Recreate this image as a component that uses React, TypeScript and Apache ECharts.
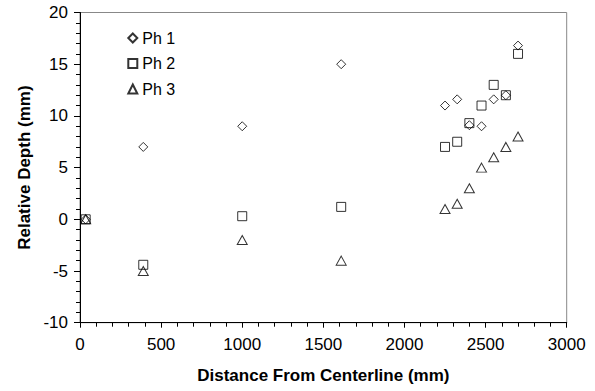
import React, { useEffect, useRef } from "react";
import * as echarts from "echarts";

const distances = [35, 390, 1000, 1610, 2250, 2325, 2400, 2475, 2550, 2625, 2700];
const ph1 = [0, 7, 9, 15, 11, 11.6, 9.1, 9, 11.6, 12, 16.8];
const ph2 = [0, -4.4, 0.3, 1.2, 7, 7.5, 9.3, 11, 13, 12, 16];
const ph3 = [0, -5, -2, -4, 1, 1.5, 3, 5, 6, 7, 8];
const seriesNames = ["Ph 1", "Ph 2", "Ph 3"];
const xTitle = "Distance From Centerline (mm)";
const yTitle = "Relative Depth (mm)";

const FONT = '"Liberation Sans", Arial, sans-serif';

export default function App() {
  const ref = useRef<HTMLDivElement>(null);
  useEffect(() => {
    if (!ref.current) return;
    const chart = echarts.init(ref.current, undefined, { renderer: "svg" });
    const pts = (ys: number[]) => distances.map((d, i) => [d, ys[i]]);
    const mk = (name: string, ys: number[], symbol: string, size: any) => ({
      name,
      type: "scatter",
      data: pts(ys),
      symbol,
      symbolSize: size,
      itemStyle: { color: "rgba(0,0,0,0)", borderColor: "#000", borderWidth: 1 },
      emphasis: { disabled: true },
    });
    chart.setOption({
      animation: false,
      textStyle: { fontFamily: FONT },
      grid: {
        left: 80,
        top: 12.5,
        right: 28.3,
        bottom: 68.3,
        show: true,
        borderColor: "#888",
        borderWidth: 1,
        backgroundColor: "#fff",
      },
      legend: {
        orient: "vertical",
        left: 122.3,
        top: 25,
        itemWidth: 9,
        itemHeight: 9,
        itemGap: 9.5,
        data: seriesNames,
        textStyle: { fontSize: 16, color: "#000", fontFamily: FONT, lineHeight: 16 },
      },
      xAxis: {
        type: "value",
        min: 0,
        max: 3000,
        interval: 500,
        name: xTitle,
        nameLocation: "middle",
        nameGap: 44.5,
        nameTextStyle: { fontSize: 17, fontWeight: "bold", color: "#000", fontFamily: FONT },
        axisLine: { onZero: false, lineStyle: { color: "#000", width: 1 } },
        axisTick: { show: true, length: 5, lineStyle: { color: "#000" } },
        minorTick: { show: true, splitNumber: 5, length: 4, lineStyle: { color: "#000" } },
        splitLine: { show: false },
        axisLabel: {
          fontSize: 17,
          color: "#000",
          margin: 13,
          fontFamily: FONT,
          formatter: (v: number) => String(v),
        },
      },
      yAxis: {
        type: "value",
        min: -10,
        max: 20,
        interval: 5,
        name: yTitle,
        nameLocation: "middle",
        nameGap: 47,
        nameRotate: 90,
        nameTextStyle: { fontSize: 17, fontWeight: "bold", color: "#000", fontFamily: FONT },
        axisLine: { show: true, onZero: false, lineStyle: { color: "#000", width: 1 } },
        axisTick: { show: true, length: 6, lineStyle: { color: "#000" } },
        minorTick: { show: true, splitNumber: 5, length: 4, lineStyle: { color: "#000" } },
        splitLine: { show: false },
        axisLabel: { fontSize: 17, color: "#000", margin: 12, fontFamily: FONT },
      },
      series: [
        mk(seriesNames[0], ph1, "diamond", 9),
        mk(seriesNames[1], ph2, "rect", 9),
        mk(seriesNames[2], ph3, "triangle", [10, 9]),
      ],
    });
    return () => chart.dispose();
  }, []);
  return (
    <div
      ref={ref}
      style={{ position: "fixed", left: 0, top: 0, width: 595, height: 391, background: "#fff" }}
    />
  );
}
